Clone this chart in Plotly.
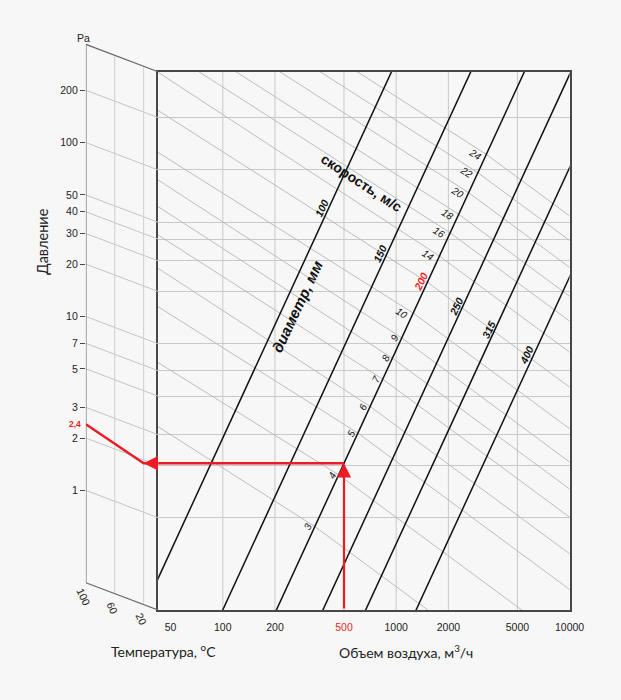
import numpy as np
import plotly.graph_objects as go

# ---- data ----
Q_TICKS = [50, 100, 200, 500, 1000, 2000, 5000, 10000]      # air volume, m3/h
P_TICKS = [1, 2, 3, 5, 7, 10, 20, 30, 40, 50, 100, 200]     # pressure, Pa
T_TICKS = [100, 60, 20]                                     # temperature, C

# duct diameter lines (mm): flow at the low and at the high end
D_MM = [100, 150, 200, 250, 315, 400]
D_Q0 = [34.1, 97.6, 199, 369, 651, 1272]
D_P0 = [0.28, 0.28, 0.28, 0.28, 0.28, 0.28]
D_Q1 = [978, 2803, 5709, 10585, 18713, 36535]
D_P1 = [400, 400, 400, 400, 400, 400]
D_LAB_Q = [372, 810, 1389, 2231, 3439, 5642]
D_LAB_P = [60.2, 33.2, 23.0, 16.4, 12.1, 8.62]

# air speed lines (m/s): start, crossing with the 200 mm line, end
V_MS = [3, 4, 5, 6, 7, 8, 9, 10, 12, 14, 16, 18, 20, 22, 24]
V_TEXT = ['3', '4', '5', '6', '7', '8', '9', '10', '', '14', '16', '18', '20', '22', '24']
V_Q0 = [41.3, 41.3, 41.3, 41.3, 41.3, 41.3, 41.3, 41.3, 41.3, 41.3, 70.4, 115, 206, 352, 576]
V_P0 = [3.39, 7.92, 16.6, 27.6, 42.9, 62.5, 88.9, 128, 223, 370, 375, 375, 375, 375, 375]
V_Q1 = [340, 467, 603, 710, 838, 953, 1078, 1256, 1513, 1772, 2046, 2290, 2613, 2954, 3303]
V_P1 = [0.888, 1.76, 3.06, 4.35, 6.25, 8.25, 10.8, 15.0, 22.6, 32.0, 43.5, 55.6, 74.0, 96.4, 123]
V_Q2 = [1577, 5486, 10200, 10200, 10200, 10200, 10200, 10200, 10200, 10200, 10200, 10200, 10200, 10200, 10200]
V_P2 = [0.287, 0.287, 0.381, 0.611, 0.992, 1.44, 2.06, 3.20, 5.55, 8.82, 13.3, 18.5, 27.1, 38.7, 53.6]

# worked example in red
Q_RED = 500
D_RED = 200
T_RED = 20
P_RED_LEFT = 2.4
RED_TEXT = '2,4'

# ---- layout geometry ----
W, H = 621, 700


def fx(px):
    return px / W


def fy(py):
    return 1 - py / H


X0, X1 = fx(162), fx(583.7)
Y0, Y1 = fy(610), fy(71.7)
PX0 = fx(88)
PY1 = fy(38)
XR = [1.6268, 4.0]
YR = [-0.5308, 2.5647]
dec_per_paper = (YR[1] - YR[0]) / (Y1 - Y0)
YR2 = [YR[0], YR[0] + (PY1 - Y0) * dec_per_paper]
SKEW = 27.3 / H                      # oblique shift of the temperature panel
K = 10 ** (SKEW * dec_per_paper)

Pbot, Ptop = 10 ** YR[0], 10 ** YR[1]
Qlo = 10 ** XR[0]

FONT = 'Liberation Sans, Arial, sans-serif'
TFONT = 'Lato, Open Sans, sans-serif'
RED = '#ec1c24'
GRID = '#c9c9c9'
FRAME = '#474747'

fig = go.Figure()

# vertical grid of the main field
gx, gy = [], []
for q in Q_TICKS[1:-1]:
    gx += [q, q, None]
    gy += [Pbot, Ptop, None]
fig.add_trace(go.Scatter(x=gx, y=gy, mode='lines', line=dict(color=GRID, width=1),
                         hoverinfo='skip'))

# speed lines
vx, vy = [], []
for i in range(len(V_MS)):
    vx += [V_Q0[i], V_Q1[i], V_Q2[i], None]
    vy += [V_P0[i], V_P1[i], V_P2[i], None]
fig.add_trace(go.Scatter(x=vx, y=vy, mode='lines', line=dict(color='#b5b5b5', width=0.9),
                         hoverinfo='skip'))

# diameter lines
dx, dy = [], []
for i in range(len(D_MM)):
    dx += [D_Q0[i], D_Q1[i], None]
    dy += [D_P0[i], D_P1[i], None]
fig.add_trace(go.Scatter(x=dx, y=dy, mode='lines', line=dict(color='#111111', width=1.5),
                         hoverinfo='skip'))

# pressure on the 200 mm line at the example flow
i = D_MM.index(D_RED)
p_red = 10 ** np.interp(np.log10(Q_RED),
                        [np.log10(D_Q0[i]), np.log10(D_Q1[i])],
                        [np.log10(D_P0[i]), np.log10(D_P1[i])])

fig.add_trace(go.Scatter(x=[Qlo, Q_RED], y=[p_red, p_red], mode='lines',
                         line=dict(color=RED, width=2.4), hoverinfo='skip'))

# ---- temperature panel (oblique) ----
px_, py_ = [], []
for p in P_TICKS:
    px_ += [0, 100, None]
    py_ += [p, p * K, None]
fig.add_trace(go.Scatter(x=px_, y=py_, mode='lines', line=dict(color='#c4c4c4', width=1),
                         xaxis='x2', yaxis='y2', hoverinfo='skip'))

tx, ty = [], []
for t in T_TICKS[1:]:
    tx += [t, t, None]
    ty += [Pbot * K ** (t / 100), Ptop * K ** (t / 100), None]
fig.add_trace(go.Scatter(x=tx, y=ty, mode='lines', line=dict(color='#cfcfcf', width=1),
                         xaxis='x2', yaxis='y2', hoverinfo='skip'))

fig.add_trace(go.Scatter(x=[100, 0, None, 100, 0, None, 100, 100],
                         y=[Ptop * K, Ptop, None, Pbot * K, Pbot, None, Pbot * K, Ptop * K],
                         mode='lines', line=dict(color='#666666', width=1.2),
                         xaxis='x2', yaxis='y2', hoverinfo='skip'))

p_left = P_RED_LEFT * K
fig.add_trace(go.Scatter(x=[0, T_RED, 100], y=[p_red, p_red, p_left], mode='lines',
                         line=dict(color=RED, width=2.4), xaxis='x2', yaxis='y2',
                         hoverinfo='skip'))

ann = []

# diameter numbers
for q, p, d in zip(D_LAB_Q, D_LAB_P, D_MM):
    col = RED if d == D_RED else '#111111'
    ann.append(dict(x=np.log10(q), y=np.log10(p), xref='x', yref='y', showarrow=False,
                    text='<b><i>%d</i></b>' % d, textangle=-64.7,
                    font=dict(family=FONT, size=10.5, color=col)))

# speed numbers
for q, p, s in zip(V_Q1, V_P1, V_TEXT):
    if not s:
        continue
    low = int(s) < 10
    ann.append(dict(x=np.log10(q), y=np.log10(p), xref='x', yref='y', showarrow=False,
                    text='<i>%s</i>' % s, textangle=-62 if low else 33,
                    xshift=-7 if low else -11,
                    font=dict(family=FONT, size=10, color='#111111')))

ann.append(dict(x=np.log10(632), y=np.log10(84.4), xref='x', yref='y', showarrow=False,
                text='<b>скорость, м/с</b>', textangle=33.2,
                font=dict(family=FONT, size=14, color='#111111')))
ann.append(dict(x=np.log10(269.5), y=np.log10(16.3), xref='x', yref='y', showarrow=False,
                text='<b><i>диаметр, мм</i></b>', textangle=-64.7,
                font=dict(family=FONT, size=15, color='#111111')))

# red arrows
ann.append(dict(x=np.log10(Q_RED), y=np.log10(p_red), xref='x', yref='y',
                ax=np.log10(Q_RED), ay=YR[0], axref='x', ayref='y', text='',
                showarrow=True, arrowhead=2, arrowsize=1.3, arrowwidth=2.2, arrowcolor=RED))
ann.append(dict(x=T_RED, y=np.log10(p_red), xref='x2', yref='y2',
                ax=6, ay=np.log10(p_red), axref='x2', ayref='y2', text='',
                showarrow=True, arrowhead=2, arrowsize=1.3, arrowwidth=2.2, arrowcolor=RED))
ann.append(dict(x=100, y=np.log10(p_left), xref='x2', yref='y2', showarrow=False,
                text='<b>%s</b>' % RED_TEXT, xanchor='right', xshift=-3,
                font=dict(family=FONT, size=8.5, color=RED)))

# temperature numbers under the slanted bottom edge
for t in T_TICKS:
    ann.append(dict(x=t, y=np.log10(Pbot * K ** (t / 100)), xref='x2', yref='y2',
                    showarrow=False, text=str(t), textangle=65, yshift=-14, xshift=-2,
                    font=dict(family=FONT, size=10.5, color='#222222')))

ann.append(dict(x=fx(76.7), y=fy(30), xref='paper', yref='paper', showarrow=False,
                text='Pa', font=dict(family=FONT, size=10.5, color='#222222')))
ann.append(dict(x=fx(33.3), y=fy(241.7), xref='paper', yref='paper', showarrow=False,
                text='Давление', textangle=-90, font=dict(family=TFONT, size=14.5, color='#222222')))
ann.append(dict(x=fx(112), y=fy(661.7), xref='paper', yref='paper', showarrow=False,
                text='Температура, <sup>o</sup>C', font=dict(family=TFONT, size=14, color='#222222')))
ann.append(dict(x=fx(487), y=fy(662.7), xref='paper', yref='paper', showarrow=False,
                text='Объем воздуха, м<sup>3</sup>/ч', font=dict(family=TFONT, size=14, color='#222222')))

qtext = ['<span style="color:%s">%d</span>' % (RED, q) if q == Q_RED else str(q) for q in Q_TICKS]

fig.update_layout(
    width=W, height=H, autosize=False,
    margin=dict(l=0, r=0, t=0, b=0),
    paper_bgcolor='#f7f7f7', plot_bgcolor='#f7f7f7',
    showlegend=False,
    xaxis=dict(type='log', domain=[X0, X1], range=XR, anchor='y',
               tickvals=Q_TICKS, ticktext=qtext, ticks='', ticklabelstandoff=6,
               showgrid=False, zeroline=False, showline=True, mirror=True,
               linecolor=FRAME, linewidth=1.8,
               tickfont=dict(family=FONT, size=10.5, color='#222222')),
    yaxis=dict(type='log', domain=[Y0, Y1], range=YR, anchor='x',
               tickvals=P_TICKS, showticklabels=False, ticks='',
               showgrid=True, gridcolor=GRID, gridwidth=1, zeroline=False,
               showline=True, mirror=True, linecolor=FRAME, linewidth=1.8),
    xaxis2=dict(domain=[PX0, X0], range=[100, 0], anchor='y2', visible=False),
    yaxis2=dict(type='log', domain=[Y0, PY1], range=YR2, anchor='x2', side='left',
                tickvals=[p * K for p in P_TICKS], ticktext=[str(p) for p in P_TICKS],
                ticks='outside', ticklen=5, tickcolor=FRAME, showgrid=False,
                zeroline=False, showline=False,
                tickfont=dict(family=FONT, size=10.5, color='#222222')),
    annotations=ann,
)

# page body margin off so the 621x700 figure fills the window
fig.write_html("out.html", config={'displayModeBar': False},
               post_script="document.body.style.margin='0';document.body.style.overflow='hidden';")
